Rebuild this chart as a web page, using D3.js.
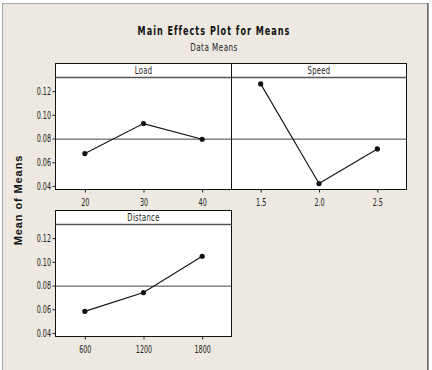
<!DOCTYPE html>
<meta charset="utf-8">
<script src="https://cdn.jsdelivr.net/npm/d3@7"></script>
<style>
  body { margin: 0; background: #fff; }
  .tick text { font-family: "DejaVu Sans Condensed", "DejaVu Sans", sans-serif; font-size: 10.5px; fill: #222; }
  .tick line { stroke: #222; }
  .domain { display: none; }
</style>
<body>
<script>

// data
var loadLevels = [20, 30, 40],
    loadMeans = [0.0673, 0.0926, 0.0794];
var speedLevels = [1.5, 2.0, 2.5],
    speedMeans = [0.1261, 0.0420, 0.0712];
var distanceLevels = [600, 1200, 1800],
    distanceMeans = [0.0582, 0.0741, 0.1047];
var grandMean = 0.0795;
var yTicks = [0.04, 0.06, 0.08, 0.10, 0.12];

var narrow = '"DejaVu Sans Condensed", "DejaVu Sans", sans-serif';

// squeeze text horizontally (the original font is very narrow)
function squeeze(sel, k, x, y) {
    sel.attr("x", x / k).attr("y", y)
        .attr("transform", `scale(${k},1)`);
}

var svg = d3.select("body").append("svg")
    .attr("width", 432)
    .attr("height", 370);

// outer frame
svg.append("rect")
    .attr("x", 2.5).attr("y", 3.5)
    .attr("width", 425).attr("height", 380)
    .style("fill", "#ede9e0")
    .style("stroke", "#a8a8a8");
svg.append("line")
    .attr("x1", 428).attr("x2", 428).attr("y1", 3).attr("y2", 370)
    .style("stroke", "#333");

// title
svg.append("text")
    .style("text-anchor", "middle")
    .style("font-family", narrow)
    .style("font-weight", "bold")
    .style("font-size", "12.5px")
    .style("letter-spacing", "1.4px")
    .style("fill", "#111")
    .text("Main Effects Plot for Means")
    .call(squeeze, 0.72, 214, 35);

svg.append("text")
    .style("text-anchor", "middle")
    .style("font-family", narrow)
    .style("font-size", "10px")
    .style("letter-spacing", "0.6px")
    .style("fill", "#222")
    .text("Data Means")
    .call(squeeze, 0.8, 214, 51);

// y axis title
svg.append("text")
    .attr("transform", "translate(22,200) rotate(-90)")
    .style("text-anchor", "middle")
    .style("font-family", "Liberation Sans, Arial, sans-serif")
    .style("font-weight", "bold")
    .style("font-size", "11px")
    .style("letter-spacing", "0.9px")
    .style("fill", "#111")
    .text("Mean of Means");

var yDomain = [0.0370, 0.1315];
var tk = 0.68;

function panel(opts) {
    var g = svg.append("g");
    var headerH = 14, plotH = 112;
    var top = opts.top, plotTop = top + headerH, plotBottom = plotTop + plotH;

    var x = d3.scaleLinear().domain(opts.xDomain).range([opts.left, opts.right]);
    var y = d3.scaleLinear().domain(yDomain).range([plotBottom, plotTop]);

    // header strip
    g.append("rect")
        .attr("x", opts.left).attr("y", top)
        .attr("width", opts.right - opts.left).attr("height", headerH)
        .style("fill", "#fff").style("stroke", "#111");
    g.append("text")
        .style("text-anchor", "middle")
        .style("font-family", narrow)
        .style("font-size", "10px")
        .style("letter-spacing", "0.4px")
        .style("fill", "#222")
        .text(opts.name)
        .call(squeeze, 0.76, (opts.left + opts.right) / 2, top + 10.8);

    // plot area
    g.append("rect")
        .attr("x", opts.left).attr("y", plotTop)
        .attr("width", opts.right - opts.left).attr("height", plotH)
        .style("fill", "#fff").style("stroke", "#111");
    g.append("line")
        .attr("x1", opts.left).attr("x2", opts.right)
        .attr("y1", plotTop).attr("y2", plotTop)
        .style("stroke", "#555").style("stroke-width", 1.6);

    // reference line at grand mean
    g.append("line")
        .attr("x1", opts.left).attr("x2", opts.right)
        .attr("y1", y(grandMean)).attr("y2", y(grandMean))
        .style("stroke", "#444").style("stroke-width", 1);

    // axes
    var xa = g.append("g")
        .attr("transform", `translate(0,${plotBottom})`)
        .call(d3.axisBottom(x).tickValues(opts.levels).tickFormat(opts.fmt)
            .tickSize(3).tickPadding(6));
    xa.selectAll(".tick text").attr("transform", `scale(${tk},1)`);

    if (opts.yAxis) {
        var ya = g.append("g")
            .attr("transform", `translate(${opts.left},0)`)
            .call(d3.axisLeft(y).tickValues(yTicks).tickFormat(d3.format(".2f"))
                .tickSize(3).tickPadding(1.5));
        ya.selectAll(".tick text")
            .attr("x", -4.5 / tk)
            .attr("transform", `scale(${tk},1)`);
    }

    var pts = opts.levels.map((l, i) => [l, opts.means[i]]);
    g.append("path")
        .attr("d", d3.line().x(d => x(d[0])).y(d => y(d[1]))(pts))
        .style("fill", "none").style("stroke", "#111").style("stroke-width", 1.1);
    g.selectAll(".dot").data(pts).enter().append("circle")
        .attr("cx", d => x(d[0])).attr("cy", d => y(d[1]))
        .attr("r", 2.6).style("fill", "#111");
}

panel({name: "Load", levels: loadLevels, means: loadMeans, xDomain: [15, 45],
       fmt: d3.format("d"), left: 55.5, right: 231.5, top: 63.5, yAxis: true});
panel({name: "Speed", levels: speedLevels, means: speedMeans, xDomain: [1.25, 2.75],
       fmt: d3.format(".1f"), left: 231.5, right: 406.5, top: 63.5, yAxis: false});
panel({name: "Distance", levels: distanceLevels, means: distanceMeans, xDomain: [300, 2100],
       fmt: d3.format("d"), left: 55.5, right: 231.5, top: 210.5, yAxis: true});

</script>
</body>
</html>
